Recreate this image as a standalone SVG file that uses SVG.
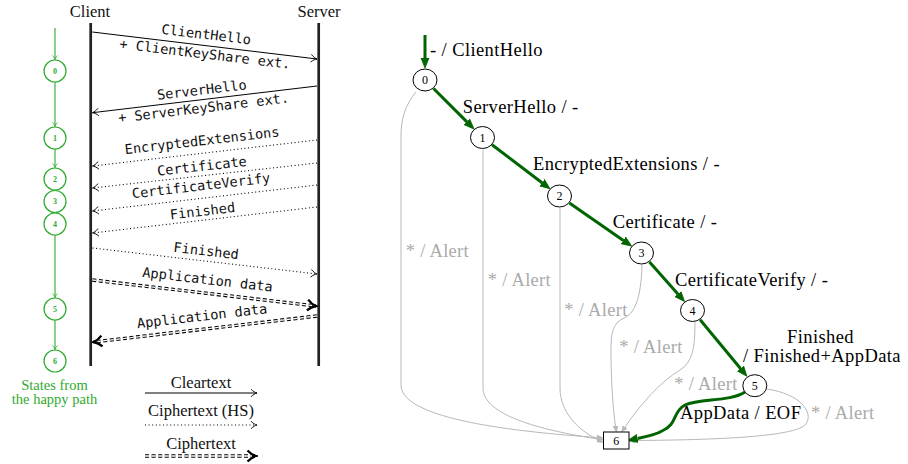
<svg xmlns="http://www.w3.org/2000/svg" width="908" height="464" viewBox="0 0 908 464">
<defs>
<style>
.life{stroke:#222;stroke-width:2.7;fill:none}
.msg{stroke:#000;stroke-width:1;fill:none}
.dot{stroke:#000;stroke-width:1.1;fill:none;stroke-dasharray:1 2.6}
.dblb{stroke:#000;stroke-width:3.4;fill:none;stroke-dasharray:4 2.6}
.dblw{stroke:#fff;stroke-width:1.3;fill:none;stroke-dasharray:4 2.6}
.tt{font-family:"DejaVu Sans Mono","Liberation Mono",monospace;font-size:13.6px;fill:#111;text-anchor:middle}
.rm{font-family:"Liberation Serif","DejaVu Serif",serif;font-size:16.5px;fill:#111;text-anchor:middle}
.gr{stroke:#2eaa2e;stroke-width:1.1;fill:none}
.grc{stroke:#2eaa2e;stroke-width:1.2;fill:#fff}
.grn{font-family:"Liberation Serif","DejaVu Serif",serif;font-size:8px;font-weight:bold;fill:#2eaa2e;text-anchor:middle}
.grt{font-family:"Liberation Serif","DejaVu Serif",serif;font-size:14.5px;fill:#2eaa2e;text-anchor:middle}
.ge{stroke:#006400;stroke-width:3;fill:none}
.ae{stroke:#b8b8b8;stroke-width:1;fill:none}
.node{stroke:#000;stroke-width:1;fill:#fff}
.nl{font-family:"Liberation Serif","DejaVu Serif",serif;font-size:12px;fill:#000;text-anchor:middle}
.el{font-family:"Liberation Serif","DejaVu Serif",serif;font-size:18.5px;letter-spacing:0.4px;fill:#000}
.al{font-family:"Liberation Serif","DejaVu Serif",serif;font-size:18.5px;letter-spacing:0.3px;fill:#aaa}
</style>
<marker id="to" markerUnits="userSpaceOnUse" viewBox="-8 -5 10 10" markerWidth="10" markerHeight="10" refX="0" refY="0" orient="auto">
<path d="M-6,-3.8 C-4,-1.6 -1.5,-0.4 0,0 C-1.5,0.4 -4,1.6 -6,3.8" fill="none" stroke="#000" stroke-width="0.9"/>
</marker>
<marker id="tothick" markerUnits="userSpaceOnUse" viewBox="-12 -8 14 16" markerWidth="14" markerHeight="16" refX="0" refY="0" orient="auto">
<path d="M-8.5,-5.5 C-5.5,-2.2 -2.2,-0.6 0,0 C-2.2,0.6 -5.5,2.2 -8.5,5.5" fill="none" stroke="#000" stroke-width="2.3"/>
</marker>
<marker id="gto" markerUnits="userSpaceOnUse" viewBox="-6 -4 8 8" markerWidth="8" markerHeight="8" refX="0" refY="0" orient="auto">
<path d="M-4,-2.6 C-2.6,-1 -1,-0.3 0,0 C-1,0.3 -2.6,1 -4,2.6" fill="none" stroke="#2eaa2e" stroke-width="0.9"/>
</marker>
<marker id="garr" markerUnits="userSpaceOnUse" viewBox="0 -5 11 10" markerWidth="11" markerHeight="10" refX="0" refY="0" orient="auto">
<path d="M0,-4 L10,0 L0,4 z" fill="#006400" stroke="#006400" stroke-width="0.8"/>
</marker>
<marker id="aarr" markerUnits="userSpaceOnUse" viewBox="0 -4 8 8" markerWidth="8" markerHeight="8" refX="0" refY="0" orient="auto">
<path d="M0,-2.5 L6,0 L0,2.5 z" fill="#b8b8b8" stroke="#b8b8b8" stroke-width="0.6"/>
</marker>
</defs>
<rect width="908" height="464" fill="#fff"/>

<!-- ===== Sequence diagram ===== -->
<g id="client">
<text class="rm" x="90" y="17.3">Client</text>
<line class="life" x1="90.7" y1="23" x2="90.7" y2="366"/>
</g>
<g id="server">
<text class="rm" x="319" y="17.3">Server</text>
<line class="life" x1="318.7" y1="23" x2="318.7" y2="366"/>
</g>

<g id="messages">
<line class="msg" x1="92.3" y1="32" x2="317" y2="59" marker-end="url(#to)"/>
<g transform="translate(204.5,45.5) rotate(6.84)">
<text class="tt" x="0.5" y="-6.5">ClientHello</text>
<text class="tt" x="1.5" y="13">+ ClientKeyShare ext.</text>
</g>

<line class="msg" x1="317" y1="86" x2="92.5" y2="112.7" marker-end="url(#to)"/>
<g transform="translate(204.5,99.3) rotate(-6.77)">
<text class="tt" x="-1.5" y="-5">ServerHello</text>
<text class="tt" x="-2" y="13">+ ServerKeyShare ext.</text>
</g>

<line class="dot" x1="317" y1="140" x2="92.5" y2="166" marker-end="url(#to)"/>
<text class="tt" transform="translate(205,153) rotate(-6.62)" x="-1.5" y="-8">EncryptedExtensions</text>

<line class="dot" x1="317" y1="163" x2="92.5" y2="188" marker-end="url(#to)"/>
<text class="tt" transform="translate(205,175.5) rotate(-6.37)" x="-2" y="-5">Certificate</text>

<line class="dot" x1="317" y1="185" x2="92.5" y2="211" marker-end="url(#to)"/>
<text class="tt" transform="translate(205,198) rotate(-6.62)" x="-2.5" y="-8">CertificateVerify</text>

<line class="dot" x1="317" y1="207" x2="92.5" y2="233" marker-end="url(#to)"/>
<text class="tt" transform="translate(205,220) rotate(-6.62)" x="-1.5" y="-4.5">Finished</text>

<line class="dot" x1="92.5" y1="248" x2="317" y2="274" marker-end="url(#to)"/>
<text class="tt" transform="translate(205,261) rotate(6.62)" x="0" y="-5.5">Finished</text>

<line class="dblb" x1="92.3" y1="280" x2="316" y2="306" marker-end="url(#tothick)"/>
<line class="dblw" x1="92.3" y1="280" x2="312" y2="305.5"/>
<text class="tt" transform="translate(204.5,293) rotate(6.59)" x="1.5" y="-9">Application data</text>

<line class="dblb" x1="317" y1="316" x2="93.5" y2="342" marker-end="url(#tothick)"/>
<line class="dblw" x1="317" y1="316" x2="97.5" y2="341.5"/>
<text class="tt" transform="translate(205,329) rotate(-6.56)" x="-1.5" y="-8.5">Application data</text>
</g>

<!-- ===== Happy path states ===== -->
<g id="happy-edges">
<line class="gr" x1="55" y1="28" x2="55" y2="59.5" marker-end="url(#gto)"/>
<line class="gr" x1="55" y1="82" x2="55" y2="126.5" marker-end="url(#gto)"/>
<line class="gr" x1="55" y1="149" x2="55" y2="167.5" marker-end="url(#gto)"/>
<line class="gr" x1="55" y1="235" x2="55" y2="297.5" marker-end="url(#gto)"/>
<line class="gr" x1="55" y1="320" x2="55" y2="349.5" marker-end="url(#gto)"/>
</g>
<g id="hs0"><circle class="grc" cx="55" cy="71" r="11"/><text class="grn" x="55" y="73.8">0</text></g>
<g id="hs1"><circle class="grc" cx="55" cy="138" r="11"/><text class="grn" x="55" y="140.8">1</text></g>
<g id="hs2"><circle class="grc" cx="55" cy="179" r="11"/><text class="grn" x="55" y="181.8">2</text></g>
<g id="hs3"><circle class="grc" cx="55" cy="201.5" r="11"/><text class="grn" x="55" y="204.3">3</text></g>
<g id="hs4"><circle class="grc" cx="55" cy="224" r="11"/><text class="grn" x="55" y="226.8">4</text></g>
<g id="hs5"><circle class="grc" cx="55" cy="309" r="11"/><text class="grn" x="55" y="311.8">5</text></g>
<g id="hs6"><circle class="grc" cx="55" cy="361" r="11"/><text class="grn" x="55" y="363.8">6</text></g>
<g id="happy-caption">
<text class="grt" x="54.5" y="389.5">States from</text>
<text class="grt" x="54.5" y="404">the happy path</text>
</g>

<!-- ===== Legend ===== -->
<g id="legend">
<text class="rm" x="201" y="388">Cleartext</text>
<line class="msg" x1="145" y1="393" x2="257" y2="393" marker-end="url(#to)"/>
<text class="rm" x="201" y="416">Ciphertext (HS)</text>
<line class="dot" x1="145" y1="425" x2="257" y2="425" marker-end="url(#to)"/>
<text class="rm" x="201" y="449">Ciphertext</text>
<line class="dblb" x1="145" y1="456" x2="256" y2="456" marker-end="url(#tothick)"/>
<line class="dblw" x1="145" y1="456" x2="252" y2="456"/>
</g>

<!-- ===== State machine ===== -->
<g id="sm-edges">
<path class="ae" d="M416,92 C405,105 401,120 401,135 L401,385 C401,420 520,432 597,437.5" marker-end="url(#aarr)"/>
<path class="ae" d="M483,149.5 L483,388 C483,415 540,430 597,438.8" marker-end="url(#aarr)"/>
<path class="ae" d="M560,208 L560,388 C560,412 578,430 598,439.8" marker-end="url(#aarr)"/>
<path class="ae" d="M642,265 C641,300 634,314 624,318 C612,323 611,335 611,350 C611,380 613,410 615.5,426" marker-end="url(#aarr)"/>
<path class="ae" d="M695,322 C695,350 692,362 680,370 C660,382 640,405 625,427" marker-end="url(#aarr)"/>
<path class="ae" d="M767,389 C800,394 814,412 806,424 C796,438 700,440 635,440.5" marker-end="url(#aarr)"/>

<line class="ge" x1="425" y1="35" x2="425" y2="58" marker-end="url(#garr)"/>
<line class="ge" x1="433.5" y1="88.5" x2="466.9" y2="121.9" marker-end="url(#garr)"/>
<line class="ge" x1="492" y1="144.8" x2="542" y2="182.7" marker-end="url(#garr)"/>
<line class="ge" x1="569.4" y1="202.9" x2="623.4" y2="240.4" marker-end="url(#garr)"/>
<line class="ge" x1="649.5" y1="262" x2="677.9" y2="294" marker-end="url(#garr)"/>
<line class="ge" x1="700.1" y1="319.8" x2="740.5" y2="368.5" marker-end="url(#garr)"/>
<path class="ge" d="M745,392 C730,402 700,398 685,405 C672,412 678,424 662,431 C655,435 645,437 637.5,438.5" marker-end="url(#garr)"/>

<text class="el" x="430" y="56">- / ClientHello</text>
<text class="el" x="462.7" y="113.3">ServerHello / -</text>
<text class="el" x="533" y="170">EncryptedExtensions / -</text>
<text class="el" x="612.7" y="228">Certificate / -</text>
<text class="el" x="675" y="285.7">CertificateVerify / -</text>
<text class="el" x="820.5" y="343" text-anchor="middle">Finished</text>
<text class="el" x="743" y="362">/ Finished+AppData</text>
<text class="el" x="680" y="419">AppData / EOF</text>

<text class="al" x="405.7" y="257">* / Alert</text>
<text class="al" x="487.7" y="286">* / Alert</text>
<text class="al" x="564.3" y="316">* / Alert</text>
<text class="al" x="619.3" y="353">* / Alert</text>
<text class="al" x="674.3" y="390">* / Alert</text>
<text class="al" x="811" y="419">* / Alert</text>
</g>

<g id="s0"><ellipse class="node" cx="425" cy="80" rx="12" ry="11"/><text class="nl" x="425" y="84">0</text></g>
<g id="s1"><ellipse class="node" cx="482.5" cy="137.5" rx="12" ry="11"/><text class="nl" x="482.5" y="141.5">1</text></g>
<g id="s2"><ellipse class="node" cx="559.5" cy="196" rx="12" ry="11"/><text class="nl" x="559.5" y="200">2</text></g>
<g id="s3"><ellipse class="node" cx="641.5" cy="253" rx="12" ry="11"/><text class="nl" x="641.5" y="257">3</text></g>
<g id="s4"><ellipse class="node" cx="692.5" cy="310.5" rx="12" ry="11"/><text class="nl" x="692.5" y="314.5">4</text></g>
<g id="s5"><ellipse class="node" cx="754.8" cy="385.7" rx="12" ry="11"/><text class="nl" x="754.8" y="389.7">5</text></g>
<g id="s6"><rect class="node" x="603.5" y="432" width="25.5" height="17"/><text class="nl" x="616.2" y="444.5">6</text></g>
</svg>
